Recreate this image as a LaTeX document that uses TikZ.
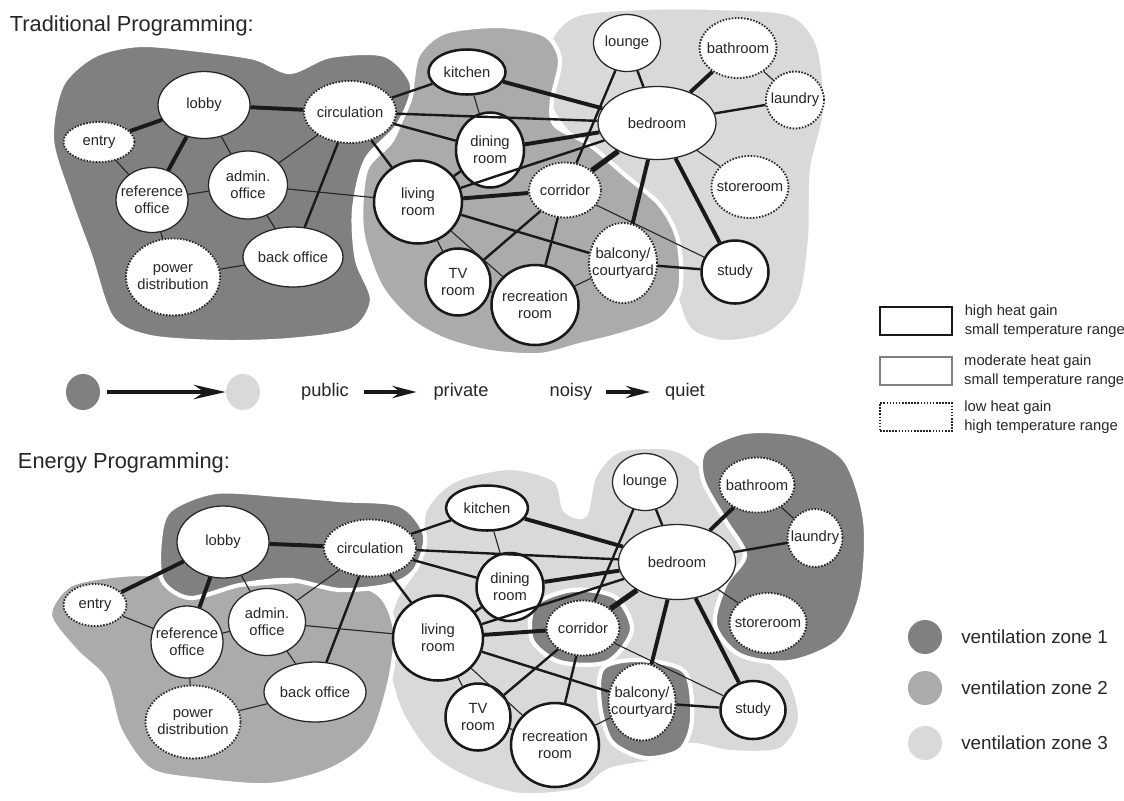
\documentclass[tikz,border=0pt]{standalone}
\usepackage{fontspec}
\setmainfont{Liberation Sans}
\usetikzlibrary{shapes.geometric, arrows.meta, positioning}
\definecolor{zoneA}{RGB}{128,128,128} % ventilation zone 1
\definecolor{zoneB}{RGB}{171,171,171} % ventilation zone 2
\definecolor{zoneC}{RGB}{217,217,217} % ventilation zone 3
\tikzset{
room/.style 2 args={ellipse, fill=white, inner sep=-2cm, minimum width=#1*0.25mm, minimum height=#2*0.25mm,
  font=\fontsize{10.5}{12}\selectfont, align=center, text=black!85}, % size of the ellipse in pixels
hot/.style={draw=black!90, line width=1.8pt}, % high heat gain
mild/.style={draw=black!85, line width=0.9pt}, % moderate heat gain
cool/.style={draw=black!85, line width=1.3pt, dash pattern=on 1.1pt off 1.1pt}, % low heat gain
weak/.style={draw=black!85, line width=0.8pt},
link/.style={draw=black!90, line width=1.7pt},
strong/.style={draw=black!90, line width=2.8pt},
heavy/.style={draw=black!90, line width=3.8pt},
zone/.style={fill=#1, draw=white, line width=3pt}, % blobs, white rim keeps them apart
flow/.style={-{Stealth[length=8mm, width=3.6mm]}, line width=2.8pt, draw=black!90},
flowsmall/.style={-{Stealth[length=6mm, width=3mm]}, line width=3pt, draw=black!90},
tag/.style={font=\fontsize{13}{15}\selectfont, text=black!85},
}

\begin{document}
\begin{tikzpicture}[x=0.25mm, y=-0.25mm]
\useasboundingbox (0,0) rectangle (1124,800);

% zones, traditional
\fill[zone=zoneC] plot[smooth cycle] coordinates {(548,45) (575,15) (640,8) (720,8) (790,14) (818,45) (825,110) (812,170) (810,240) (800,300) (770,333) (725,342) (690,330) (675,290) (672,240) (650,200) (610,165) (570,135) (548,100)};
\fill[zone=zoneB] plot[smooth cycle] coordinates {(362,230) (366,170) (392,140) (410,95) (418,55) (445,32) (500,26) (545,35) (560,60) (552,100) (555,125) (590,145) (625,175) (660,205) (678,240) (680,290) (660,320) (620,335) (580,345) (540,355) (490,352) (445,340) (410,320) (380,285)};
\fill[zone=zoneA] plot[smooth cycle] coordinates {(52,140) (62,85) (95,55) (140,45) (200,50) (255,58) (290,72) (330,56) (385,55) (412,85) (398,125) (366,160) (354,210) (357,260) (372,300) (352,330) (290,340) (220,342) (150,337) (112,318) (90,255) (70,200)};

% zones, energy
\fill[zone=zoneC] plot[smooth cycle] coordinates {(385,650) (395,600) (420,560) (425,510) (455,480) (510,468) (555,480) (565,510) (585,515) (595,475) (620,450) (670,448) (700,465) (720,500) (745,545) (740,590) (760,650) (790,680) (800,720) (780,750) (730,752) (690,745) (660,760) (610,770) (580,790) (520,795) (470,780) (430,755) (400,710)};
\fill[zone=zoneB] plot[smooth cycle] coordinates {(50,615) (70,585) (120,575) (170,575) (220,585) (280,582) (340,580) (380,595) (395,630) (390,680) (370,740) (330,770) (270,785) (200,780) (150,770) (120,730) (105,680) (75,650)};
\fill[zone=zoneA] plot[smooth cycle] coordinates {(160,540) (170,510) (215,492) (280,495) (340,500) (400,505) (425,535) (415,570) (390,585) (340,590) (290,580) (240,585) (190,598) (162,580)};
\fill[zone=zoneA] plot[smooth cycle] coordinates {(535,605) (573,590) (615,597) (632,630) (607,662) (560,662) (532,640)};
\fill[zone=zoneA] plot[smooth cycle] coordinates {(603,668) (640,660) (685,672) (692,720) (680,750) (645,758) (612,742) (600,705)};
\fill[zone=zoneA] plot[smooth cycle] coordinates {(703,480) (705,450) (745,432) (800,435) (845,460) (865,520) (862,590) (840,640) (790,662) (740,655) (715,625) (725,585) (745,555) (725,520)};

% titles
\node[anchor=west, font=\fontsize{15.5}{18}\selectfont, text=black!85] (ttitle) at (5,26) {Traditional Programming:};
\node[anchor=west, font=\fontsize{15.5}{18}\selectfont, text=black!85] (btitle) at (13,463) {Energy Programming:};

% rooms, traditional
\node[room={92}{67}, mild] (t-lobby) at (204,105) {lobby};
\node[room={71}{40}, cool] (t-entry) at (99,142) {entry};
\node[room={92}{62}, cool] (t-circ) at (350,112) {circulation};
\node[room={72}{65}, mild] (t-ref) at (152,200) {reference\\office};
\node[room={79}{68}, mild] (t-admin) at (248,185) {admin.\\office};
\node[room={100}{60}, mild] (t-back) at (293,257) {back office};
\node[room={94}{77}, cool] (t-power) at (173,277) {power\\distribution};
\node[room={77}{45}, hot] (t-kitchen) at (467,72) {kitchen};
\node[room={68}{75}, hot] (t-dining) at (490,150) {dining\\room};
\node[room={88}{83}, hot] (t-living) at (418,202) {living\\room};
\node[room={72}{55}, cool] (t-corridor) at (565,190) {corridor};
\node[room={65}{67}, hot] (t-tv) at (458,282) {TV\\room};
\node[room={87}{80}, hot] (t-rec) at (535,305) {recreation\\room};
\node[room={68}{80}, cool] (t-balcony) at (623,263) {balcony/\\courtyard};
\node[room={67}{57}, mild] (t-lounge) at (627,43) {lounge};
\node[room={118}{73}, mild] (t-bedroom) at (657,123) {bedroom};
\node[room={77}{60}, cool] (t-bath) at (738,48) {bathroom};
\node[room={58}{57}, cool] (t-laundry) at (795,100) {laundry};
\node[room={77}{62}, cool] (t-store) at (750,187) {storeroom};
\node[room={67}{63}, hot] (t-study) at (735,272) {study};

% rooms, energy
\node[room={92}{72}, mild] (b-lobby) at (223,542) {lobby};
\node[room={63}{42}, cool] (b-entry) at (95,605) {entry};
\node[room={92}{57}, cool] (b-circ) at (370,548) {circulation};
\node[room={72}{72}, mild] (b-ref) at (187,642) {reference\\office};
\node[room={77}{67}, mild] (b-admin) at (267,622) {admin.\\office};
\node[room={102}{60}, mild] (b-back) at (315,692) {back office};
\node[room={95}{73}, cool] (b-power) at (193,722) {power\\distribution};
\node[room={82}{45}, hot] (b-kitchen) at (487,508) {kitchen};
\node[room={67}{68}, hot] (b-dining) at (510,587) {dining\\room};
\node[room={90}{85}, hot] (b-living) at (438,638) {living\\room};
\node[room={73}{55}, cool] (b-corridor) at (583,628) {corridor};
\node[room={65}{67}, hot] (b-tv) at (478,717) {TV\\room};
\node[room={88}{84}, hot] (b-rec) at (555,745) {recreation\\room};
\node[room={67}{77}, cool] (b-balcony) at (642,702) {balcony/\\courtyard};
\node[room={65}{57}, mild] (b-lounge) at (645,482) {lounge};
\node[room={117}{75}, mild] (b-bedroom) at (677,562) {bedroom};
\node[room={75}{55}, cool] (b-bath) at (757,485) {bathroom};
\node[room={55}{58}, cool] (b-laundry) at (815,538) {laundry};
\node[room={77}{60}, cool] (b-store) at (768,623) {storeroom};
\node[room={65}{58}, hot] (b-study) at (753,710) {study};

% adjacencies, same in both plans
\foreach \g in {t,b} {
  \draw[strong] (\g-entry) -- (\g-lobby);
  \draw[weak] (\g-entry) -- (\g-ref);
  \draw[strong] (\g-lobby) -- (\g-ref);
  \draw[weak] (\g-lobby) -- (\g-admin);
  \draw[strong] (\g-lobby) -- (\g-circ);
  \draw[weak] (\g-ref) -- (\g-admin);
  \draw[weak] (\g-ref) -- (\g-power);
  \draw[weak] (\g-admin) -- (\g-circ);
  \draw[weak] (\g-admin) -- (\g-back);
  \draw[weak] (\g-admin) -- (\g-living);
  \draw[weak] (\g-power) -- (\g-back);
  \draw[link] (\g-circ) -- (\g-back);
  \draw[link] (\g-circ) -- (\g-living);
  \draw[link] (\g-circ) -- (\g-kitchen);
  \draw[link] (\g-circ) -- (\g-bedroom);
  \draw[link] (\g-circ) -- (\g-dining);
  \draw[strong] (\g-kitchen) -- (\g-bedroom);
  \draw[weak] (\g-kitchen) -- (\g-dining);
  \draw[strong] (\g-dining) -- (\g-bedroom);
  \draw[link] (\g-dining) -- (\g-living);
  \draw[link] (\g-living) -- (\g-bedroom);
  \draw[strong] (\g-living) -- (\g-corridor);
  \draw[weak] (\g-living) -- (\g-tv);
  \draw[weak] (\g-living) -- (\g-rec);
  \draw[link] (\g-living) -- (\g-balcony);
  \draw[link] (\g-corridor) -- (\g-lounge);
  \draw[link] (\g-lounge) -- (\g-bedroom);
  \draw[heavy] (\g-corridor) -- (\g-bedroom);
  \draw[link] (\g-corridor) -- (\g-tv);
  \draw[link] (\g-corridor) -- (\g-rec);
  \draw[weak] (\g-corridor) -- (\g-study);
  \draw[strong] (\g-bedroom) -- (\g-balcony);
  \draw[strong] (\g-bedroom) -- (\g-study);
  \draw[strong] (\g-bedroom) -- (\g-bath);
  \draw[link] (\g-bedroom) -- (\g-laundry);
  \draw[weak] (\g-bedroom) -- (\g-store);
  \draw[weak] (\g-bath) -- (\g-laundry);
  \draw[link] (\g-balcony) -- (\g-study);
  \draw[weak] (\g-balcony) -- (\g-rec);
  \draw[weak] (\g-tv) -- (\g-rec);
}

% public to private
\node[ellipse, fill=zoneA, minimum width=8.5mm, minimum height=9mm] (pubzone) at (83,392) {};
\node[ellipse, fill=zoneC, minimum width=8.5mm, minimum height=9mm] (privzone) at (243,392) {};
\draw[flow, shorten <=1.7mm, shorten >=0mm] (pubzone) -- (privzone);
\node[tag] (pub) at (325,392) {public};
\node[tag] (priv) at (461,392) {private};
\draw[flowsmall, shorten <=2.5mm, shorten >=3mm] (pub) -- (priv);
\node[tag] (noisy) at (571,392) {noisy};
\node[tag] (quiet) at (685,392) {quiet};
\draw[flowsmall, shorten <=2.2mm, shorten >=2.5mm] (noisy) -- (quiet);

% heat gain key
\node[draw=black!90, line width=2pt, minimum width=18mm, minimum height=7mm] (keyhot) at (916,321) {};
\node[right=1.6mm of keyhot, align=left, font=\fontsize{10.5}{13.5}\selectfont, text=black!85] (keyhottext) {high heat gain\\small temperature range};
\node[draw=black!50, line width=1.2pt, minimum width=18mm, minimum height=7mm] (keymild) at (916,371) {};
\node[right=1.6mm of keymild, align=left, font=\fontsize{10.5}{13.5}\selectfont, text=black!85] (keymildtext) {moderate heat gain\\small temperature range};
\node[cool, minimum width=18mm, minimum height=7mm] (keycool) at (916,417) {};
\node[right=1.6mm of keycool, align=left, font=\fontsize{10.5}{13.5}\selectfont, text=black!85] (keycooltext) {low heat gain\\high temperature range};

% ventilation key
\node[circle, fill=zoneA, minimum size=8.5mm] (ventA) at (925,637) {};
\node[right=3.5mm of ventA, font=\fontsize{13.4}{16}\selectfont, text=black!85] (ventAtext) {ventilation zone 1};
\node[circle, fill=zoneB, minimum size=8.5mm] (ventB) at (925,688) {};
\node[right=3.5mm of ventB, font=\fontsize{13.4}{16}\selectfont, text=black!85] (ventBtext) {ventilation zone 2};
\node[circle, fill=zoneC, minimum size=8.5mm] (ventC) at (925,743) {};
\node[right=3.5mm of ventC, font=\fontsize{13.4}{16}\selectfont, text=black!85] (ventCtext) {ventilation zone 3};
\end{tikzpicture}
\end{document}
